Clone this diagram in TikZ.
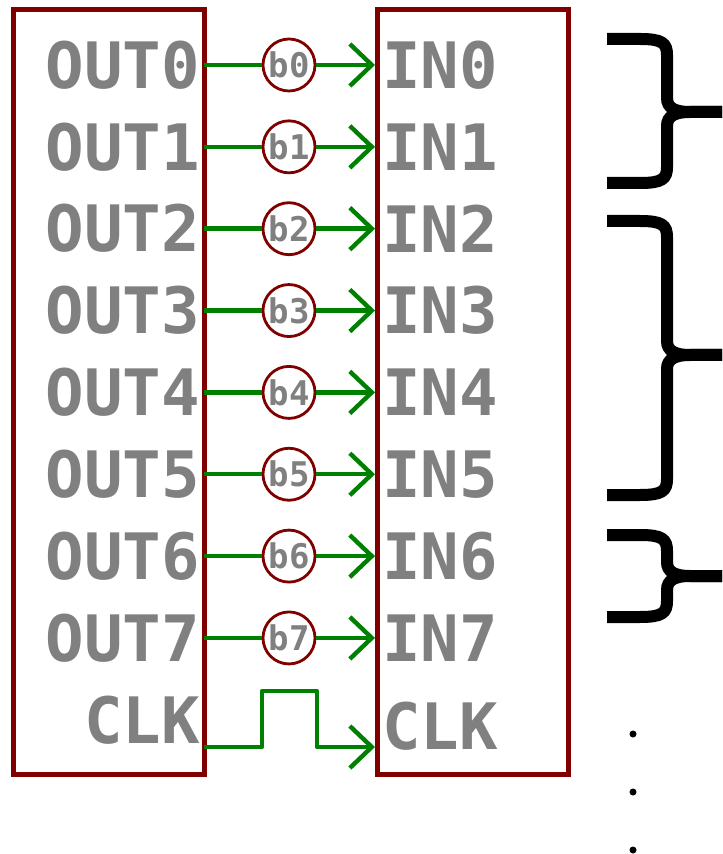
\documentclass[tikz,border=0pt]{standalone}
\usepackage{fontspec}
\newfontfamily\eaglefont{DejaVu Sans Mono}
\usetikzlibrary{arrows.meta}
\definecolor{boxred}{RGB}{128,0,0}
\definecolor{wiregreen}{RGB}{0,128,0}
\definecolor{txtgray}{RGB}{128,128,128}
\begin{document}
\begin{tikzpicture}[x=0.5pt,y=-0.5pt,
  chipbox/.style={draw=boxred,line width=2.5pt,minimum width=95.5pt,minimum height=382pt,inner sep=0pt},
  lbl/.style={text=txtgray,inner sep=0pt,font=\eaglefont\bfseries\fontsize{32}{32}\selectfont},
  bitcirc/.style={circle,draw=boxred,line width=1.4pt,fill=white,minimum size=26pt,inner sep=0pt,text=txtgray,font=\eaglefont\bfseries\fontsize{17}{17}\selectfont},
  wire/.style={draw=wiregreen,line width=2.2pt,line join=round},
  arrowwire/.style={wire,-{Straight Barb[length=11pt,width=21pt,line width=2.2pt]}},
  bracestroke/.style={draw=black,line width=6pt},
  dot/.style={circle,fill=black,minimum size=3.5pt,inner sep=0pt}]
\useasboundingbox (0,0) rectangle (722,854);
% boxes
\node[chipbox] (L) at (108.5,392) {};
\node[chipbox] (R) at (472.5,392) {};
% rows
\foreach \i in {0,...,7} {
  \pgfmathsetmacro{\yy}{65+81.85*\i}
  \node[lbl,anchor=east] (o\i) at (200,\yy) {OUT\i};
  \node[lbl,anchor=west] (n\i) at (382,\yy) {IN\i};
  \coordinate (pl\i) at (204,\yy);
  \coordinate (pr\i) at (375,\yy);
  \node[bitcirc] (c\i) at (289,\yy) {b\i};
  \draw[wire] (pl\i) -- (c\i.west);
  \draw[arrowwire] (c\i.east) -- (pr\i);
}
% clock
\node[lbl,anchor=east] (oclk) at (200,720) {CLK};
\node[lbl,anchor=west] (nclk) at (382,726) {CLK};
\coordinate (plc) at (204,747);
\coordinate (prc) at (375,747);
\draw[arrowwire] (plc) -- (262,747) -- (262,691) -- (317,691) -- (317,747) -- (prc);
% braces
\foreach \t/\m/\b in {39/112/183, 221/355/495, 535/576/617} {
  \draw[bracestroke] (607,\t) -- (640,\t) .. controls (662,\t) and (667,\t+4) .. (667,\t+16)
     -- (667,\m-14) .. controls (667,\m-4) and (675,\m) .. (690,\m) -- (722,\m);
  \draw[bracestroke] (607,\b) -- (640,\b) .. controls (662,\b) and (667,\b-4) .. (667,\b-16)
     -- (667,\m+14) .. controls (667,\m+4) and (675,\m) .. (690,\m) -- (722,\m);
}
% dots
\node[dot] (d1) at (633,734) {};
\node[dot] (d2) at (633,792) {};
\node[dot] (d3) at (633,850) {};
\end{tikzpicture}
\end{document}
